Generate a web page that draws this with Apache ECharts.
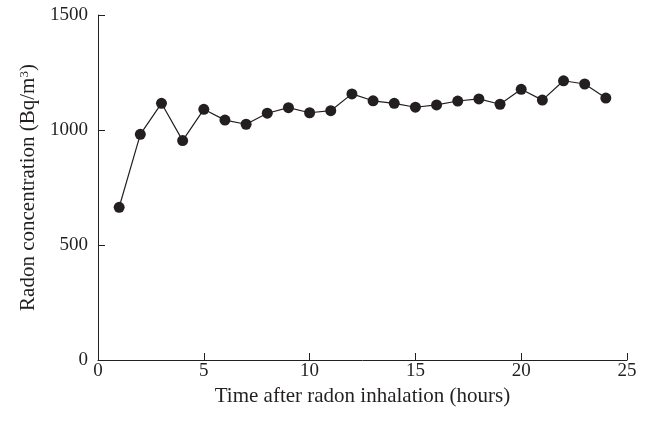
<!DOCTYPE html>
<html>
<head>
<meta charset="utf-8">
<script src="https://cdn.jsdelivr.net/npm/echarts@6/dist/echarts.min.js"></script>
<style>html,body{margin:0;padding:0;background:#fff}#c{width:648px;height:421px}</style>
</head>
<body>
<div id="c"></div>
<script>
var hours = [1,2,3,4,5,6,7,8,9,10,11,12,13,14,15,16,17,18,19,20,21,22,23,24];
var radon = [664,981,1116,954,1090,1043,1025,1073,1097,1075,1084,1157,1127,1116,1099,1109,1126,1135,1112,1177,1130,1214,1200,1139];
var xTicks = [0,5,10,15,20,25];
var yTicks = [0,500,1000,1500];

var FONT = '"Liberation Serif", "DejaVu Serif", serif';
var C = '#231f20';
var chart = echarts.init(document.getElementById('c'));
chart.setOption({
  animation: false,
  backgroundColor: '#fff',
  grid: {left: 98, right: 21, top: 15, bottom: 61},
  xAxis: {
    type: 'value', min: xTicks[0], max: xTicks[xTicks.length-1], interval: 5,
    name: 'Time after radon inhalation (hours)', nameLocation: 'middle', nameGap: 17,
    nameTextStyle: {fontFamily: FONT, fontSize: 21, color: C},
    axisLine: {lineStyle: {color: C, width: 1}},
    axisTick: {inside: true, length: 7, lineStyle: {color: C}},
    axisLabel: {fontFamily: FONT, fontSize: 19, color: C, margin: 2,
      formatter: function(v){ return String(v); }},
    splitLine: {show: false}
  },
  yAxis: {
    type: 'value', min: yTicks[0], max: yTicks[yTicks.length-1], interval: 500,
    name: '{n|Radon concentration (Bq/m}{s|3}{n|)}', nameLocation: 'middle', nameGap: 58,
    nameTextStyle: {rich: {
      n: {fontFamily: FONT, fontSize: 21, color: C},
      s: {fontFamily: FONT, fontSize: 13, color: C, verticalAlign: 'top', padding: [0,0,9,0]}
    }},
    axisLine: {show: true, lineStyle: {color: C, width: 1}},
    axisTick: {show: true, inside: true, length: 7, lineStyle: {color: C}},
    axisLabel: {fontFamily: FONT, fontSize: 19, color: C, margin: 10,
      formatter: function(v){ return String(v); }},
    splitLine: {show: false}
  },
  series: [{
    type: 'line',
    data: hours.map(function(h, i){ return [h, radon[i]]; }),
    symbol: 'circle', symbolSize: 11,
    itemStyle: {color: C},
    lineStyle: {color: C, width: 1.2}
  }]
});
</script>
</body>
</html>
